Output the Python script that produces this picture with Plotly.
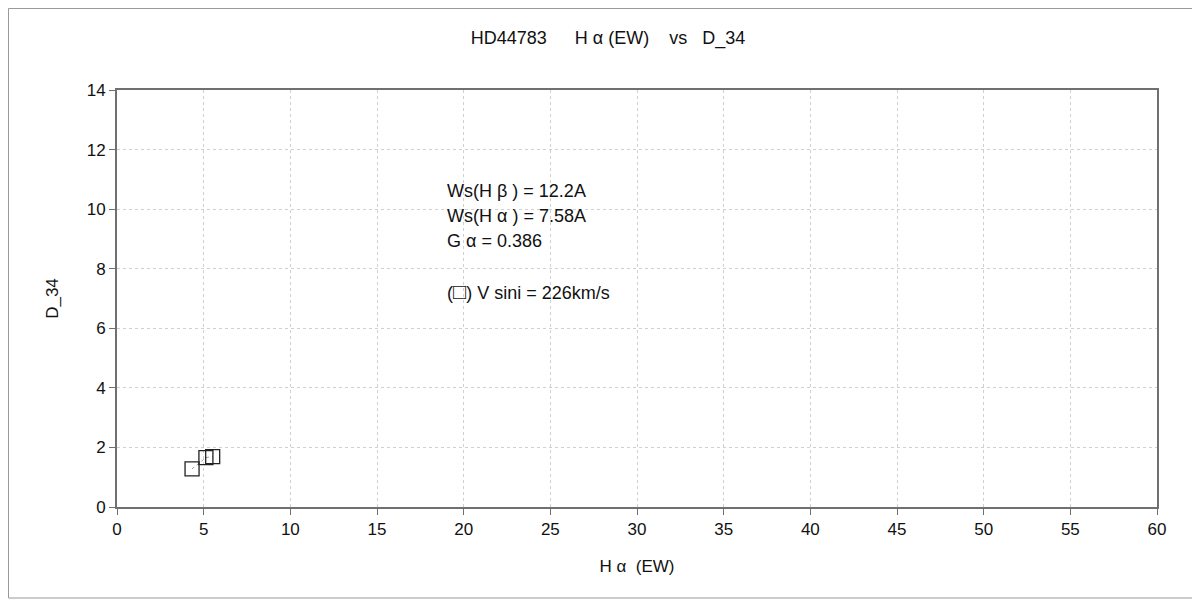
import plotly.graph_objects as go

ha_ew = [4.33, 5.13, 5.52]
d34 = [1.28, 1.66, 1.69]

x_ticks = list(range(0, 61, 5))
y_ticks = list(range(0, 15, 2))

note_lines = ["Ws(H β ) = 12.2A", "Ws(H α ) = 7.58A", "G α = 0.386",
              "(<span style='font-size:22px'>□</span>) V sini = 226km/s"]
note_y = [10.61, 9.77, 8.93, 7.25]

FONT = "Liberation Sans, Arial, Noto Sans CJK JP, sans-serif"

fig = go.Figure()
fig.add_trace(go.Scatter(
    x=ha_ew, y=d34, mode="lines+markers",
    line=dict(color="#999999", width=1, dash="dot"),
    marker=dict(symbol="square-open", size=14, color="#222222", line=dict(width=1.3, color="#222222")),
    showlegend=False, hoverinfo="x+y",
))

fig.update_layout(
    width=1200, height=600,
    paper_bgcolor="white", plot_bgcolor="white",
    margin=dict(l=109, r=51, t=82, b=101),
    font=dict(family=FONT, size=17, color="#111111"),
    title=dict(text="HD44783　  H α (EW)    vs   D_34", x=(608 - 8) / 1200, xanchor="center",
               y=1 - 30 / 600, yanchor="middle", font=dict(size=18, family=FONT)),
    xaxis=dict(range=[0, 60], tickvals=x_ticks, showgrid=True, gridcolor="#d0d0d0", griddash="dot",
               zeroline=False, showline=True, linecolor="#707070", linewidth=2, mirror=True,
               ticks="outside", ticklen=6, tickcolor="#707070",
               title=dict(text="H α  (EW)", standoff=22, font=dict(size=17))),
    yaxis=dict(range=[0, 14], tickvals=y_ticks, showgrid=True, gridcolor="#d0d0d0", griddash="dot",
               zeroline=False, showline=True, linecolor="#707070", linewidth=2, mirror=True,
               ticks="outside", ticklen=6, tickcolor="#707070",
               title=dict(text="D_34", standoff=24, font=dict(size=17))),
)

for txt, yy in zip(note_lines, note_y):
    fig.add_annotation(
        xref="x", yref="y", x=18.93, y=yy, xanchor="left", yanchor="middle",
        text=txt, showarrow=False, align="left",
        font=dict(size=18, family=FONT),
    )

fig.add_shape(type="rect", xref="paper", yref="paper",
              x0=-108.5 / 1040, x1=1 + 42 / 1040, y0=-91 / 417, y1=1 + 81.5 / 417,
              line=dict(color="#999999", width=1))

fig.write_html("out.html")
